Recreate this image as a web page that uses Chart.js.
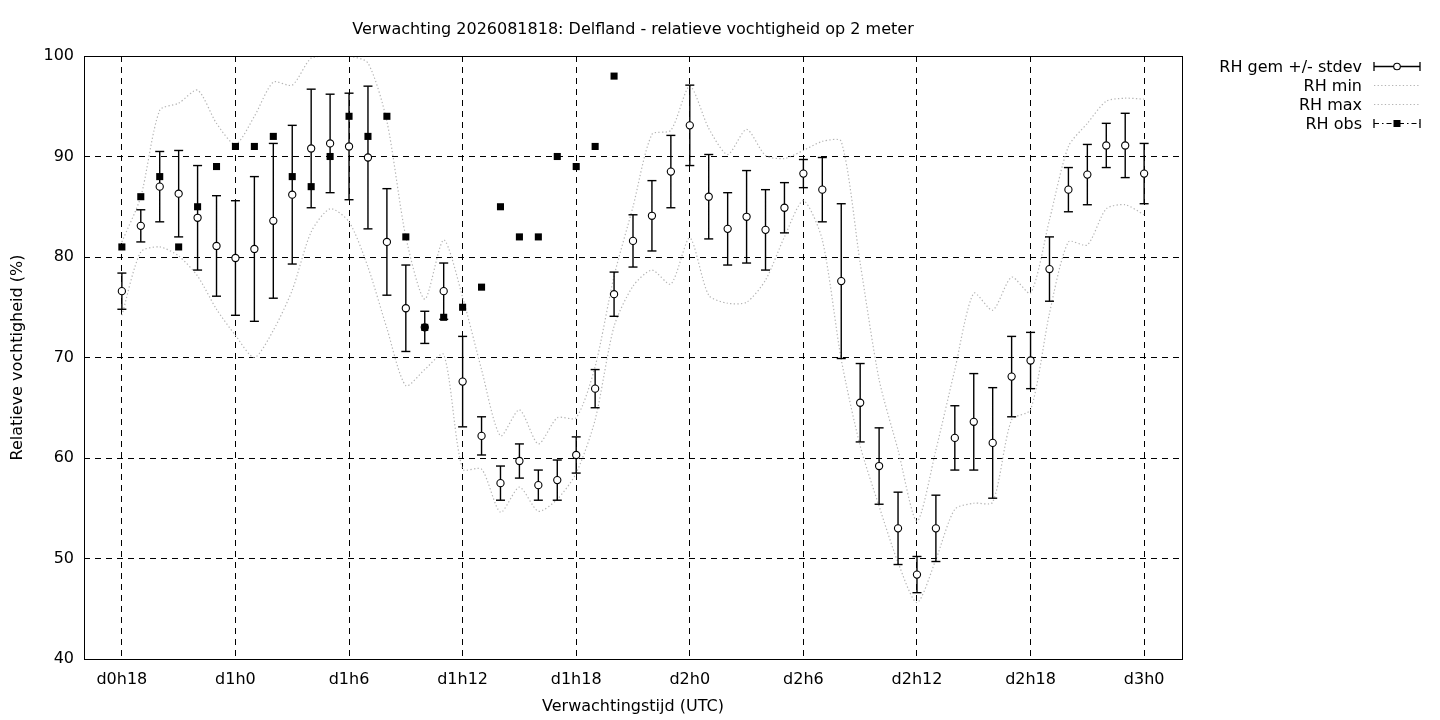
<!DOCTYPE html>
<html>
<head>
<meta charset="utf-8">
<title>Verwachting RH Delfland</title>
<script src="https://cdn.jsdelivr.net/npm/chart.js@4.4.1/dist/chart.umd.min.js"></script>
<style>
  body { margin: 0; background: #fff; }
  #wrap { position: relative; width: 1440px; height: 720px; background: #fff; font-family: 'DejaVu Sans', sans-serif; color: #000; }
  #title { position: absolute; left: 233px; width: 800px; top: 19px; text-align: center; font-size: 16px; line-height: 20px; }
  .lg-row { position: absolute; left: 1100px; height: 19px; display: flex; align-items: center; }
  .lg-text { width: 262px; text-align: right; font-size: 16px; white-space: nowrap; }
  .lg-row svg { margin-left: 9px; }
</style>
</head>
<body>
<div id="wrap">
  <canvas id="chart" width="1440" height="720"></canvas>
  <div id="title">Verwachting 2026081818: Delfland - relatieve vochtigheid op 2 meter</div>
  <div id="legend"></div>
</div>
<script>
// uren sinds d0h18
const hours = [0, 1, 2, 3, 4, 5, 6, 7, 8, 9, 10, 11, 12, 13, 14, 15, 16, 17, 18, 19, 20,
    21, 22, 23, 24, 25, 26, 27, 28, 29, 30, 31, 32, 33, 34, 35, 36, 37, 38, 39, 40,
    41, 42, 43, 44, 45, 46, 47, 48, 49, 50, 51, 52, 53, 54];

// tick labels van de tijdas
const tickHours = [0, 6, 12, 18, 24, 30, 36, 42, 48, 54];
const tickLabels = ['d0h18', 'd1h0', 'd1h6', 'd1h12', 'd1h18', 'd2h0', 'd2h6', 'd2h12', 'd2h18', 'd3h0'];

// RH gemiddelde en standaarddeviatie
const rhMean = [76.6, 83.1, 87.0, 86.3, 83.9, 81.1, 79.9, 80.8, 83.6, 86.2, 90.8,
    91.3, 91.0, 89.9, 81.5, 74.9, 73.0, 76.6, 67.6, 62.2, 57.5,
    59.7, 57.3, 57.8, 60.3, 66.9, 76.3, 81.6, 84.1, 88.5, 93.1,
    86.0, 82.8, 84.0, 82.7, 84.9, 88.3, 86.7, 77.6, 65.5, 59.2,
    53.0, 48.4, 53.0, 62.0, 63.6, 61.5, 68.1, 69.7, 78.8, 86.7,
    88.2, 91.1, 91.1, 88.3];
const rhStdev = [1.8, 1.6, 3.5, 4.3, 5.2, 5.0, 5.7, 7.2, 7.7, 6.9, 5.9,
    4.9, 5.3, 7.1, 5.3, 4.3, 1.6, 2.8, 4.5, 1.9, 1.7,
    1.7, 1.5, 2.0, 1.8, 1.9, 2.2, 2.6, 3.5, 3.6, 4.0,
    4.2, 3.6, 4.6, 4.0, 2.5, 1.4, 3.2, 7.7, 3.9, 3.8,
    3.6, 1.8, 3.3, 3.2, 4.8, 5.5, 4.0, 2.8, 3.2, 2.2,
    3.0, 2.2, 3.2, 3.0];

// RH minimum en maximum van het ensemble
const rhMin = [74.2, 80.5, 81.0, 80.1, 78.1, 74.8, 72.2, 70.0, 72.7, 76.7, 82.5,
    84.8, 83.5, 79.0, 72.9, 67.2, 68.8, 70.3, 58.9, 58.9, 54.6,
    57.1, 54.7, 55.9, 58.5, 63.8, 73.1, 77.1, 78.7, 77.3, 81.9,
    76.2, 75.4, 75.5, 77.7, 82.0, 85.6, 81.7, 69.8, 61.2, 55.2,
    49.6, 45.6, 49.9, 54.9, 55.5, 55.6, 63.8, 64.8, 74.4, 81.5,
    81.2, 84.8, 85.2, 84.2];
const rhMax = [81.5, 86.0, 94.6, 95.3, 96.6, 93.3, 91.2, 94.0, 97.4, 97.1, 99.8,
    100, 100, 99.3, 93.5, 82.0, 75.8, 81.7, 76.0, 68.8, 62.2,
    64.8, 61.4, 64.0, 64.0, 69.1, 78.1, 85.0, 92.2, 92.6, 97.0,
    92.8, 90.2, 92.7, 90.1, 89.8, 90.6, 91.5, 91.5, 79.4, 67.8,
    60.8, 53.7, 60.8, 68.8, 76.4, 74.7, 78.0, 76.4, 83.7, 91.0,
    93.3, 95.5, 95.8, 95.7];

// waarnemingen (tot d1h20)
const obsHours = [0, 1, 2, 3, 4, 5, 6, 7, 8, 9, 10, 11, 12, 13, 14, 15, 16, 17, 18, 19,
    20, 21, 22, 23, 24, 25, 26];
const rhObs = [81, 86, 88, 81, 85, 89, 91, 91, 92, 88, 87, 90, 94, 92, 94, 82, 73, 74, 75, 77,
    85, 82, 82, 90, 89, 91, 98];

const lineGray = '#b4b4b4';

Chart.defaults.font.family = "'DejaVu Sans', sans-serif";
Chart.defaults.font.size = 16;
Chart.defaults.color = '#000';

// foutbalken: onder, boven, gat
function buildErrorBars() {
    const pts = [];
    for (let i = 0; i < hours.length; i++) {
        pts.push({ x: hours[i], y: rhMean[i] - rhStdev[i] });
        pts.push({ x: hours[i], y: rhMean[i] + rhStdev[i] });
        pts.push({ x: hours[i], y: null });
    }
    return pts;
}

function toPoints(xs, ys) {
    return xs.map((x, i) => ({ x: x, y: ys[i] }));
}

// kader rond het plotgebied
const framePlugin = {
    id: 'frame',
    afterDraw(chart) {
        const a = chart.chartArea;
        const ctx = chart.ctx;
        ctx.save();
        ctx.strokeStyle = '#000';
        ctx.lineWidth = 1;
        ctx.setLineDash([]);
        ctx.strokeRect(Math.round(a.left) + 0.5, Math.round(a.top) + 0.5,
            Math.round(a.right - a.left), Math.round(a.bottom - a.top));
        ctx.restore();
    }
};

const chart = new Chart(document.getElementById('chart'), {
    type: 'scatter',
    data: {
        datasets: [
            {
                label: 'RH min',
                data: toPoints(hours, rhMin),
                showLine: true,
                pointRadius: 0,
                borderColor: lineGray,
                borderWidth: 1.2,
                borderDash: [1.3, 2.3],
                tension: 0.25,
                order: 6
            },
            {
                label: 'RH max',
                data: toPoints(hours, rhMax),
                showLine: true,
                pointRadius: 0,
                borderColor: lineGray,
                borderWidth: 1.2,
                borderDash: [1.3, 2.3],
                tension: 0.25,
                order: 5
            },
            {
                label: 'stdev',
                data: buildErrorBars(),
                showLine: true,
                spanGaps: false,
                borderColor: '#000',
                borderWidth: 1.4,
                pointStyle: 'line',
                pointRadius: 4.5,
                pointBorderWidth: 1.4,
                pointBorderColor: '#000',
                order: 4
            },
            {
                label: 'RH gem +/- stdev',
                data: toPoints(hours, rhMean),
                pointStyle: 'circle',
                pointRadius: 3.6,
                pointBackgroundColor: '#fff',
                pointBorderColor: '#000',
                pointBorderWidth: 1.1,
                order: 3
            },
            {
                label: 'RH obs',
                data: toPoints(obsHours, rhObs),
                pointStyle: 'rect',
                pointRadius: 5,
                pointBackgroundColor: '#000',
                pointBorderColor: '#000',
                pointBorderWidth: 0,
                order: 1
            }
        ]
    },
    options: {
        responsive: false,
        animation: false,
        layout: { padding: { top: 56, right: 258, bottom: 0, left: 0 } },
        plugins: {
            legend: { display: false },
            tooltip: { enabled: false },
            title: { display: false }
        },
        scales: {
            x: {
                type: 'linear',
                min: -2,
                max: 56,
                afterFit(scale) { scale.height = 61; },
                afterBuildTicks(scale) {
                    scale.ticks = tickHours.map(v => ({ value: v }));
                },
                grid: { color: '#000', lineWidth: 1, drawTicks: false },
                border: { display: false, dash: [6, 5] },
                ticks: {
                    padding: 11,
                    autoSkip: false,
                    maxRotation: 0,
                    callback: (value) => tickLabels[tickHours.indexOf(value)]
                },
                title: {
                    display: true,
                    text: 'Verwachtingstijd (UTC)',
                    padding: { top: 4, bottom: 4 }
                }
            },
            y: {
                min: 40,
                max: 100,
                afterFit(scale) { scale.width = 84; },
                grid: { color: '#000', lineWidth: 1, drawTicks: false },
                border: { display: false, dash: [6, 5] },
                ticks: { stepSize: 10, padding: 10 },
                title: {
                    display: true,
                    text: 'Relatieve vochtigheid (%)',
                    padding: { top: 8, bottom: 0 }
                }
            }
        }
    },
    plugins: [framePlugin]
});

// legenda rechtsboven
function createLegend() {
    const items = [
        { text: 'RH gem +/- stdev', svg: '<line x1="3" y1="9.5" x2="49" y2="9.5" stroke="#000" stroke-width="1.3"/><line x1="3" y1="5" x2="3" y2="14" stroke="#000" stroke-width="1.3"/><line x1="49" y1="5" x2="49" y2="14" stroke="#000" stroke-width="1.3"/><circle cx="26" cy="9.5" r="3.3" fill="#fff" stroke="#000" stroke-width="1.1"/>' },
        { text: 'RH min', svg: '<line x1="3" y1="9.5" x2="49" y2="9.5" stroke="' + lineGray + '" stroke-width="1.2" stroke-dasharray="1.3 2.3"/>' },
        { text: 'RH max', svg: '<line x1="3" y1="9.5" x2="49" y2="9.5" stroke="' + lineGray + '" stroke-width="1.2" stroke-dasharray="1.3 2.3"/>' },
        { text: 'RH obs', svg: '<line x1="3" y1="9.5" x2="49" y2="9.5" stroke="#000" stroke-width="1.2" stroke-dasharray="5 3 1.5 3"/><line x1="3" y1="5" x2="3" y2="14" stroke="#000" stroke-width="1.3"/><line x1="49" y1="5" x2="49" y2="14" stroke="#000" stroke-width="1.3"/><rect x="22.5" y="6" width="7" height="7" fill="#000"/>' }
    ];
    const container = document.getElementById('legend');
    items.forEach((item, i) => {
        const row = document.createElement('div');
        row.className = 'lg-row';
        row.style.top = (57 + i * 19) + 'px';
        row.innerHTML = '<div class="lg-text">' + item.text + '</div>' +
            '<svg width="52" height="19" viewBox="0 0 52 19">' + item.svg + '</svg>';
        container.appendChild(row);
    });
}

createLegend();
</script>
</body>
</html>
